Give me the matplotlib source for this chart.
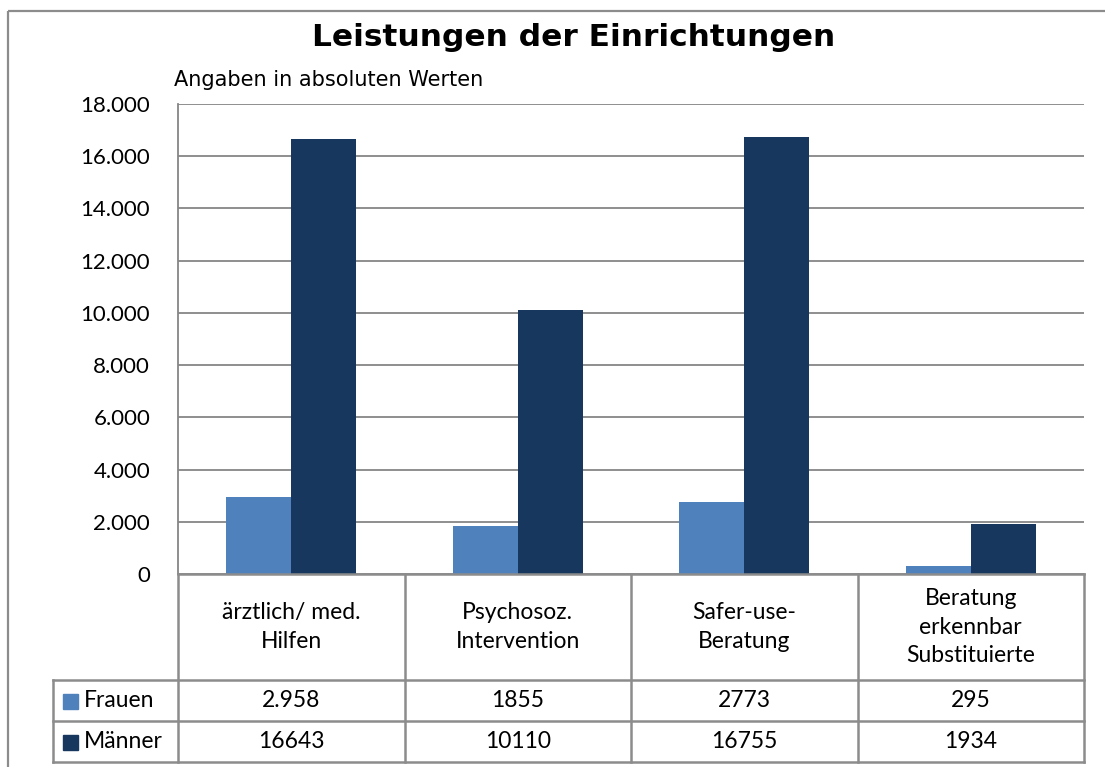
import matplotlib
matplotlib.use("Agg")
import matplotlib.pyplot as plt
from matplotlib.lines import Line2D
from matplotlib.patches import Rectangle
from matplotlib.ticker import FuncFormatter

# ---- data ----
categories = ["ärztlich/ med.\nHilfen", "Psychosoz.\nIntervention",
              "Safer-use-\nBeratung", "Beratung\nerkennbar\nSubstituierte"]
series_names = ["Frauen", "Männer"]
frauen = [2958, 1855, 2773, 295]
maenner = [16643, 10110, 16755, 1934]
frauen_labels = ["2.958", "1855", "2773", "295"]
maenner_labels = ["16643", "10110", "16755", "1934"]
yticks = [0, 2000, 4000, 6000, 8000, 10000, 12000, 14000, 16000, 18000]
title = "Leistungen der Einrichtungen"
subtitle = "Angaben in absoluten Werten"

colors = ["#4F81BD", "#17375E"]
grid_c = "#868686"
line_c = "#8C8C8C"

W, H = 1105, 767
fig = plt.figure(figsize=(W / 100, H / 100), dpi=100)
fig.patch.set_facecolor("white")

def fx(px):
    return px / W

def fy(py):
    return 1 - py / H

# plot area in pixels
L, R, T, B = 178, 1084, 104, 574
ax = fig.add_axes([fx(L), fy(B), fx(R - L), (B - T) / H])

n = len(categories)
bw = 0.287
xs = list(range(n))
ax.bar([x - bw / 2 for x in xs], frauen, width=bw, color=colors[0], zorder=3)
ax.bar([x + bw / 2 for x in xs], maenner, width=bw, color=colors[1], zorder=3)

ax.set_xlim(-0.5, n - 0.5)
ax.set_ylim(0, 18000)
ax.set_yticks(yticks)
ax.yaxis.set_major_formatter(FuncFormatter(lambda v, p: f"{int(v):,}".replace(",", ".")))
ax.set_xticks([])
ax.tick_params(axis="y", length=0, pad=20, labelsize=16)
for lbl in ax.get_yticklabels():
    lbl.set_fontfamily("Lato")
ax.grid(axis="y", color=grid_c, linewidth=1.3, zorder=0)
for s in ["top", "right", "bottom"]:
    ax.spines[s].set_visible(False)
ax.spines["left"].set_color(grid_c)
ax.spines["left"].set_linewidth(1.3)

# overlay axes in pixel coords for frame and table
ov = fig.add_axes([0, 0, 1, 1], zorder=5)
ov.set_xlim(0, W)
ov.set_ylim(H, 0)
ov.axis("off")
ov.patch.set_alpha(0)

# outer frame (extends beyond right/bottom)
ov.add_patch(Rectangle((8, 11), W + 20, H + 20, fill=False, edgecolor="#8C8C8C",
                       linewidth=1.6, clip_on=True))

ov.text(574, 38, title, ha="center", va="center", fontsize=22.5, fontweight="bold",
        family="DejaVu Sans")
ov.text(174, 80, subtitle, ha="left", va="center", fontsize=15, family="DejaVu Sans")

# table geometry derived from main axes data transform
to_disp = ax.transData
col_edges = [to_disp.transform((i - 0.5, 0))[0] for i in range(n + 1)]
y_head_top = B
y_head_bot = 680
y_row1 = 721
y_row2 = 762
lab_left = 53

lw = 1.8
def hline(y, x0, x1):
    ov.add_line(Line2D([x0, x1], [y, y], color=line_c, linewidth=lw))

def vline(x, y0, y1):
    ov.add_line(Line2D([x, x], [y0, y1], color=line_c, linewidth=lw))

hline(y_head_top, col_edges[0], col_edges[-1])
hline(y_head_bot, lab_left, col_edges[-1])
hline(y_row1, lab_left, col_edges[-1])
hline(y_row2, lab_left, col_edges[-1])
for e in col_edges:
    vline(e, y_head_top, y_row2)
vline(lab_left, y_head_bot, y_row2)

tfont = dict(family="Lato", fontsize=16.5)
for i, cat in enumerate(categories):
    cx = (col_edges[i] + col_edges[i + 1]) / 2
    ov.text(cx, (y_head_top + y_head_bot) / 2, cat, ha="center", va="center",
            linespacing=1.42, **tfont)
    ov.text(cx, (y_head_bot + y_row1) / 2, frauen_labels[i], ha="center", va="center", **tfont)
    ov.text(cx, (y_row1 + y_row2) / 2, maenner_labels[i], ha="center", va="center", **tfont)

for j, (name, rowy) in enumerate(zip(series_names, [(y_head_bot + y_row1) / 2, (y_row1 + y_row2) / 2])):
    ov.add_patch(Rectangle((63, rowy - 7), 15, 15, color=colors[j]))
    ov.text(84, rowy, name, ha="left", va="center", **tfont)

fig.savefig("out.png", dpi=100)
